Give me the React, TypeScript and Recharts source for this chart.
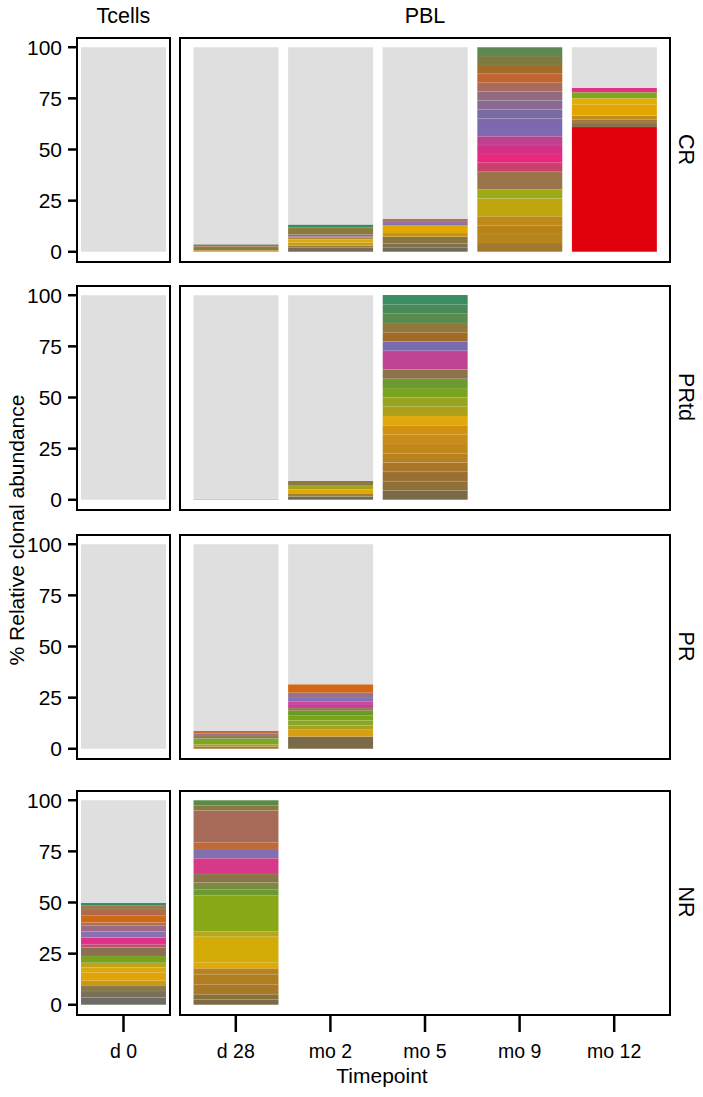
import { BarChart, Bar, Cell, XAxis, YAxis } from "recharts";

// ---- categories / ticks ----
const responses = ["CR", "PRtd", "PR", "NR"];
const tcellTimepoints = ["d 0"];
const pblTimepoints = ["d 28", "mo 2", "mo 5", "mo 9", "mo 12"];
const yTicks = [0, 25, 50, 75, 100];

// ---- clone abundances (%), bottom -> top; remainder up to 100 is grey ----
// CR
const crD0: number[] = [];
const crD28 = [0.8, 1.6, 1.1, 0.3];
const crMo2 = [2.0, 1.0, 1.4, 1.6, 0.8, 0.8, 0.8, 3.3, 1.6];
const crMo5 = [2.0, 2.1, 3.3, 1.8, 3.9, 1.0, 1.0, 1.0];
const crMo9 = [4.3, 4.4, 4.3, 4.4, 8.7, 4.3, 8.7, 4.4, 4.3, 4.4, 4.3, 8.7, 4.4, 4.3, 4.4, 4.3, 4.4, 4.3, 4.4, 4.3];
const crMo12 = [61, 2.0, 1.6, 2.0, 5.5, 3.0, 2.9, 2.1];
// PRtd
const prtdD0: number[] = [];
const prtdD28 = [0.5];
const prtdMo2 = [1.6, 1.6, 2.0, 1.6, 2.4];
const prtdMo5 = [4.55, 4.55, 4.55, 4.55, 4.55, 4.55, 4.55, 4.55, 4.55, 4.55, 4.55, 4.55, 4.55, 4.55, 9.1, 4.55, 4.55, 4.55, 4.55, 4.55, 4.55];
// PR
const prD0: number[] = [];
const prD28 = [1.1, 1.0, 2.9, 1.3, 1.3, 1.2];
const prMo2 = [6.0, 3.3, 2.1, 2.4, 2.4, 2.4, 1.3, 2.0, 1.3, 1.6, 2.6, 4.2];
// NR
const nrD0 = [3.5, 3.2, 2.5, 2.5, 4.0, 2.5, 2.4, 3.3, 4.1, 1.6, 3.3, 2.9, 2.8, 1.6, 3.3, 3.3, 1.6, 1.5];
const nrD28 = [2.6, 2.5, 4.9, 4.9, 2.9, 2.8, 12.6, 2.6, 17.8, 2.9, 3.3, 4.1, 7.7, 4.6, 3.3, 15.5, 2.5, 2.5];

// ---- clone colours, same order as the values ----
const crD0Col: string[] = [];
const crD28Col = ["#b89a30", "#8a7a3a", "#a87050", "#70b0a0"];
const crMo2Col = ["#766a58", "#9a7838", "#c89c18", "#dcaa10", "#b08a30", "#a070a8", "#8c7060", "#8a7a40", "#3a8a62"];
const crMo5Col = ["#6e6a5a", "#807050", "#8a7440", "#c49418", "#e0a800", "#8070a8", "#9a70a0", "#a87060"];
const crMo9Col = ["#a07830", "#b8841c", "#b88418", "#c08a18", "#bfa60e", "#9caa18", "#9a7448", "#c8406c", "#e8287c", "#d23088", "#c04090", "#7e68b0", "#786aa2", "#8a6a90", "#926a80", "#a86a5a", "#c06430", "#a06c28", "#7c7a40", "#5a8850"];
const crMo12Col = ["#e1000e", "#8a7050", "#a07a40", "#c08c1c", "#e2a600", "#e6ac06", "#7aa820", "#e03080"];
const prtdD0Col: string[] = [];
const prtdD28Col = ["#e8b830"];
const prtdMo2Col = ["#6a6a60", "#a08030", "#e0a800", "#a8a020", "#8a7a40"];
const prtdMo5Col = ["#7a6a48", "#8e7038", "#9a7030", "#a87828", "#b88020", "#c08818", "#c88c18", "#d09010", "#e0a808", "#aca018", "#98a420", "#7aa420", "#6a9a30", "#8a7448", "#c04494", "#7a6ab0", "#a06a28", "#907838", "#5a8a50", "#4a8a58", "#3a8c62"];
const prD0Col: string[] = [];
const prD28Col = ["#a07830", "#c09020", "#7aa820", "#8a7a50", "#a07080", "#c06a30"];
const prMo2Col = ["#7a6a48", "#d8a010", "#a8a020", "#88a820", "#7aa418", "#6a9a28", "#907a48", "#c8409a", "#d040a0", "#8070b0", "#9a7090", "#d06818"];
const nrD0Col = ["#6e6c66", "#7a7058", "#8a7848", "#c89818", "#e0a408", "#dca810", "#c0a418", "#7aa020", "#8a7050", "#c05070", "#e03088", "#8a70b0", "#9a6a88", "#b0704a", "#d06818", "#b06a48", "#9a7a48", "#3a8a68"];
const nrD28Col = ["#7a6a48", "#8a7038", "#a87a28", "#b07e20", "#b88420", "#e0a808", "#d4ac08", "#b8a818", "#88a818", "#6a9a30", "#7a8a40", "#8a7448", "#d83888", "#8070b0", "#c06838", "#a86a58", "#8a7a40", "#5a8a48"];

type Sample = { values: number[]; colors: string[] } | null;
const smp = (values: number[], colors: string[]): Sample => ({ values, colors });

const tcellSamples: Sample[][] = [
  [smp(crD0, crD0Col)],
  [smp(prtdD0, prtdD0Col)],
  [smp(prD0, prD0Col)],
  [smp(nrD0, nrD0Col)],
];
const pblSamples: Sample[][] = [
  [smp(crD28, crD28Col), smp(crMo2, crMo2Col), smp(crMo5, crMo5Col), smp(crMo9, crMo9Col), smp(crMo12, crMo12Col)],
  [smp(prtdD28, prtdD28Col), smp(prtdMo2, prtdMo2Col), smp(prtdMo5, prtdMo5Col), null, null],
  [smp(prD28, prD28Col), smp(prMo2, prMo2Col), null, null, null],
  [smp(nrD28, nrD28Col), null, null, null, null],
];

const GREY = "#dfdfdf";
const FONT = "'Liberation Sans', Arial, Helvetica, sans-serif";
const ROW_TOP = [37, 284.5, 534, 789.5];
const PANEL_H = 225;
const X_AXIS_H = 70;
const TC_LEFT = 76;
const TC_RIGHT = 171;
const PBL_LEFT = 179;
const PBL_RIGHT = 671;

function buildRows(times: string[], samples: Sample[]) {
  return times.map((tp, i) => {
    const s = samples[i];
    const row: Record<string, any> = { tp };
    if (!s) return row;
    s.values.forEach((v, k) => (row["s" + k] = v));
    const sum = s.values.reduce((a, b) => a + b, 0);
    row.rest = Math.max(0, 100 - sum);
    return row;
  });
}

function Panel({ times, samples, withY, withX, width, padding }: {
  times: string[]; samples: Sample[]; withY: boolean; withX: boolean; width: number; padding: number;
}) {
  const data = buildRows(times, samples);
  const maxN = Math.max(0, ...samples.map((s) => (s ? s.values.length : 0)));
  return (
    <BarChart
      width={width}
      height={PANEL_H + (withX ? X_AXIS_H : 0)}
      data={data}
      margin={{ top: 0, right: 0, bottom: 0, left: 0 }}
      barCategoryGap={0}
    >
      <XAxis
        dataKey="tp"
        hide={!withX}
        height={X_AXIS_H}
        padding={{ left: padding, right: padding }}
        axisLine={false}
        tickLine={{ stroke: "#000", strokeWidth: 2.5 }}
        tickSize={17}
        tickMargin={12}
        tick={{ fontSize: 19.5, fill: "#000" }}
        interval={0}
      />
      <YAxis
        type="number"
        domain={[-5, 105]}
        allowDataOverflow
        ticks={yTicks}
        interval={0}
        hide={!withY}
        width={TC_LEFT}
        axisLine={false}
        tickLine={{ stroke: "#000", strokeWidth: 2.5 }}
        tickSize={8}
        tickMargin={6}
        tick={{ fontSize: 21, fill: "#000" }}
      />
      {Array.from({ length: maxN }, (_, k) => (
        <Bar key={k} dataKey={"s" + k} stackId="a" barSize={85} isAnimationActive={false}
          stroke="#ffffff" strokeOpacity={0.12} strokeWidth={0.5}>
          {samples.map((s, i) => (
            <Cell key={i} fill={s && s.colors[k] ? s.colors[k] : "none"} />
          ))}
        </Bar>
      ))}
      <Bar dataKey="rest" stackId="a" barSize={85} fill={GREY} isAnimationActive={false} />
    </BarChart>
  );
}

const border = (left: number, right: number, top: number) => ({
  position: "absolute" as const,
  left,
  top,
  width: right - left,
  height: PANEL_H + 1,
  border: "2.6px solid #000",
  boxSizing: "border-box" as const,
  pointerEvents: "none" as const,
});

export default function App() {
  return (
    <div style={{ position: "absolute", left: 0, top: 0, width: 703, height: 1097, background: "#fff", fontFamily: FONT }}>
      {responses.map((r, i) => {
        const top = ROW_TOP[i];
        const last = i === responses.length - 1;
        return (
          <div key={r}>
            <div style={{ position: "absolute", left: 0, top }}>
              <Panel times={tcellTimepoints} samples={tcellSamples[i]} withY withX={last} width={TC_RIGHT} padding={0} />
            </div>
            <div style={{ position: "absolute", left: PBL_LEFT, top }}>
              <Panel times={pblTimepoints} samples={pblSamples[i]} withY={false} withX={last} width={PBL_RIGHT - PBL_LEFT} padding={9.5} />
            </div>
            <div style={border(TC_LEFT, TC_RIGHT, top)} />
            <div style={border(PBL_LEFT, PBL_RIGHT, top)} />
          </div>
        );
      })}
      <svg width={703} height={1097} style={{ position: "absolute", left: 0, top: 0, pointerEvents: "none" }}>
        <text x={(TC_LEFT + TC_RIGHT) / 2} y={23.3} textAnchor="middle" fontSize={21.5}>Tcells</text>
        <text x={(PBL_LEFT + PBL_RIGHT) / 2} y={23.3} textAnchor="middle" fontSize={21.5}>PBL</text>
        {responses.map((r, i) => (
          <text key={r} transform={`translate(686,${ROW_TOP[i] + PANEL_H / 2}) rotate(90)`}
            textAnchor="middle" dominantBaseline="central" fontSize={21.5}>{r}</text>
        ))}
        <text x={382} y={1083} textAnchor="middle" fontSize={21}>Timepoint</text>
        <text transform="translate(16,530) rotate(-90)" textAnchor="middle" dominantBaseline="central" fontSize={21}>
          % Relative clonal abundance
        </text>
      </svg>
    </div>
  );
}
